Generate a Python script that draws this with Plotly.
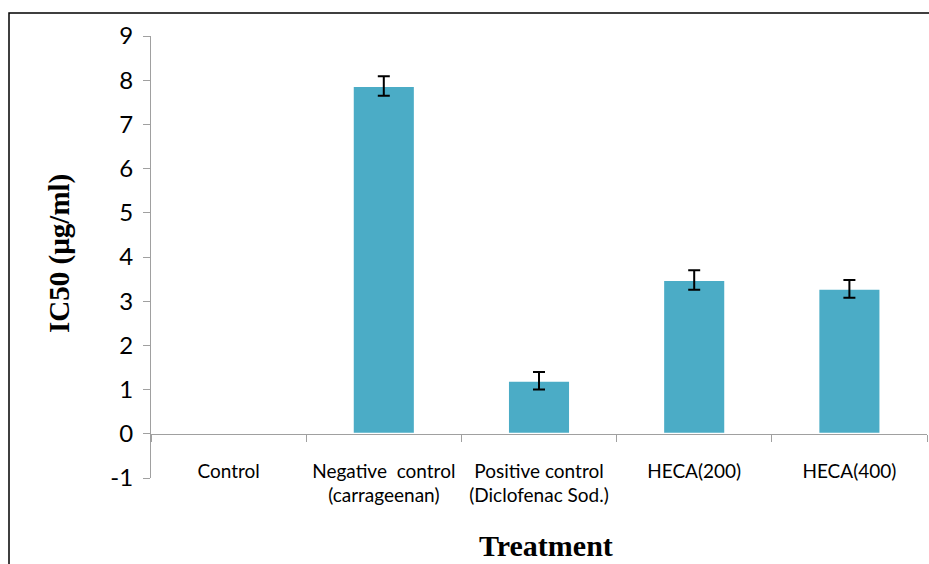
import plotly.graph_objects as go

categories = ["Control", "Negative  control<br>(carrageenan)", "Positive control<br>(Diclofenac Sod.)", "HECA(200)", "HECA(400)"]
ic50 = [None, 7.87, 1.2, 3.48, 3.28]
err = [None, 0.22, 0.2, 0.22, 0.2]
y_ticks = [-1, 0, 1, 2, 3, 4, 5, 6, 7, 8, 9]
y_tick_text = ["-1", "0", "1", "2", "3", "4", "5", "6", "7", "8", "9"]

W, H = 929, 564
L, R, T = 151, 2, 36
B = H - 478
pw, ph = W - L - R, H - T - B


def px(xp):
    return (xp - L) / pw


def py(yp):
    return 1 - (yp - T) / ph


fig = go.Figure()
fig.add_trace(go.Bar(
    x=categories, y=ic50, width=0.4,
    marker=dict(color="#4BACC6", line=dict(color="white", width=2)),
    error_y=dict(type="data", array=err, visible=True, color="black", thickness=2, width=6),
))

fig.update_layout(
    width=W, height=H, margin=dict(l=L, r=R, t=T, b=B),
    paper_bgcolor="white", plot_bgcolor="white", showlegend=False,
    font=dict(family="Lato", color="black"),
    xaxis=dict(
        type="category", tickson="boundaries", ticks="outside", ticklen=7,
        tickcolor="#a0a0a0", showline=True, linecolor="#a0a0a0", linewidth=1,
        anchor="free", position=0.1, showgrid=False,
        tickfont=dict(size=19, family="Lato"), ticklabelstandoff=20,
    ),
    yaxis=dict(
        range=[-1, 9], tickvals=y_ticks, ticktext=y_tick_text, ticks="outside", ticklen=7,
        tickcolor="#a0a0a0", showline=True, linecolor="#a0a0a0", linewidth=1,
        showgrid=False, zeroline=False, tickfont=dict(size=24, family="Lato"),
        ticklabelstandoff=5,
    ),
    shapes=[dict(type="rect", xref="paper", yref="paper",
                 x0=px(9), x1=1.05, y0=py(600), y1=py(13),
                 line=dict(color="black", width=1.5), fillcolor="rgba(0,0,0,0)", layer="below")],
    annotations=[
        dict(text="<b>IC50 (µg/ml)</b>", xref="paper", yref="paper",
             x=px(59), y=py(254), xanchor="center", yanchor="middle",
             showarrow=False, textangle=-90,
             font=dict(family="Liberation Serif", size=29, color="black")),
        dict(text="<b>Treatment</b>", xref="paper", yref="paper",
             x=px(546), y=py(545), xanchor="center", yanchor="middle", showarrow=False,
             font=dict(family="Liberation Serif", size=30, color="black")),
    ],
)

fig.write_html("out.html", config={"displayModeBar": False},
               post_script="document.body.style.margin='0';document.body.style.overflow='hidden';")
